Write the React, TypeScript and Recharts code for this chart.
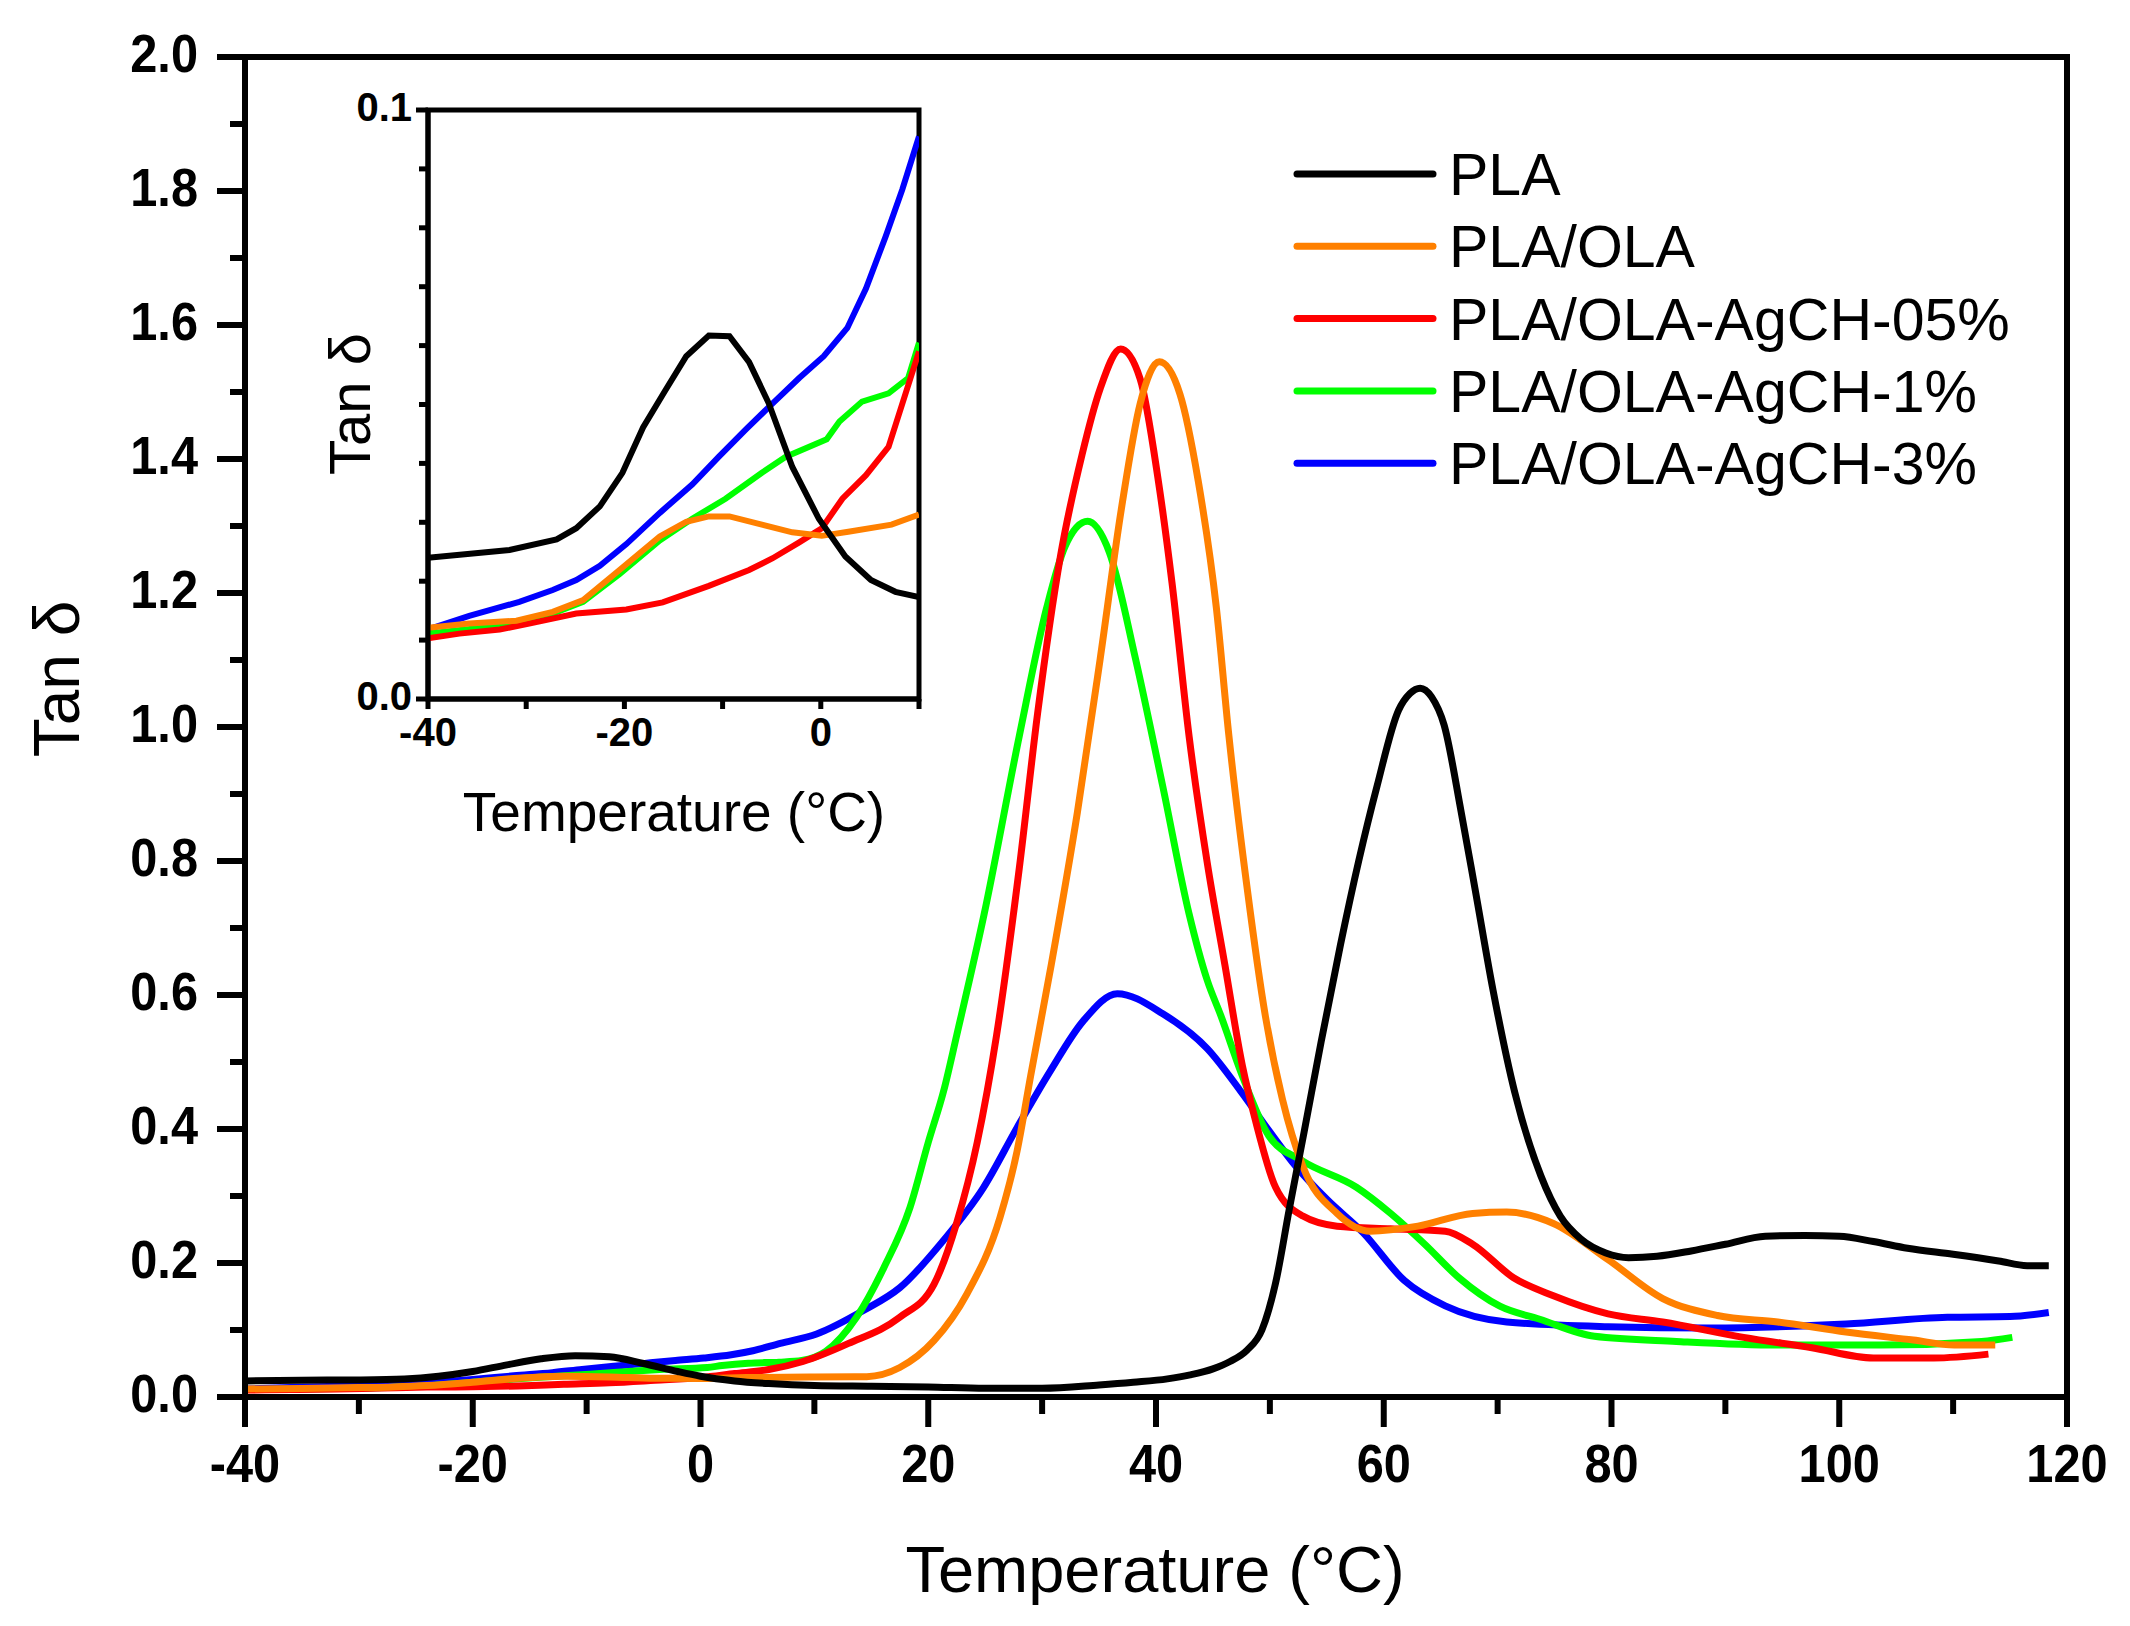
import { LineChart, Line, XAxis, YAxis, ReferenceArea, Legend } from 'recharts'

const FONT = '"Liberation Sans", Arial, Helvetica, sans-serif'

// main panel: tan delta vs temperature (°C)
const plaT = [-40, -35, -30, -26, -23, -20, -17, -14, -11, -8, -5, -2, 0, 3, 6, 10, 15, 20, 25, 30, 35, 38, 41, 43, 45, 46.5, 48, 49.3, 50.5, 51.7, 53, 54.5, 56.2, 57.8, 59.4, 61.3, 62.3, 63.2, 64.2, 65.3, 66.8, 68, 69.6, 71.5, 73.8, 75.5, 77.3, 79.5, 81.5, 84, 87, 90, 93.5, 97, 100, 103, 106, 110, 114, 116.5, 118.4]
const plaV = [0.024, 0.025, 0.0255, 0.027, 0.031, 0.038, 0.048, 0.057, 0.0617, 0.06, 0.05, 0.038, 0.031, 0.024, 0.02, 0.017, 0.016, 0.015, 0.013, 0.013, 0.018, 0.022, 0.027, 0.033, 0.042, 0.053, 0.07, 0.1, 0.17, 0.28, 0.395, 0.53, 0.675, 0.8, 0.911, 1.025, 1.05, 1.058, 1.045, 1.003, 0.873, 0.76, 0.607, 0.455, 0.33, 0.27, 0.236, 0.215, 0.208, 0.21, 0.218, 0.228, 0.24, 0.241, 0.24, 0.232, 0.222, 0.213, 0.203, 0.196, 0.196]

const olaT = [-40, -35, -30, -27, -24, -20, -16, -12, -8, -4, 0, 4, 10, 14.6, 17.5, 20.5, 23.4, 26.3, 27.8, 29, 30.8, 33.1, 35.1, 37, 38.6, 40.3, 42.1, 43.7, 45.3, 46.4, 48, 49.6, 51.1, 52.9, 55.9, 58.8, 63, 67.8, 70.8, 74.9, 79.7, 84.5, 89.3, 94.6, 100.6, 106.5, 110.1, 113.7]
const olaV = [0.012, 0.0128, 0.014, 0.015, 0.017, 0.022, 0.028, 0.031, 0.03, 0.028, 0.0277, 0.029, 0.03, 0.0304, 0.044, 0.084, 0.154, 0.268, 0.367, 0.48, 0.645, 0.873, 1.102, 1.33, 1.482, 1.545, 1.497, 1.368, 1.178, 0.987, 0.76, 0.569, 0.4445, 0.344, 0.274, 0.2475, 0.255, 0.274, 0.276, 0.259, 0.205, 0.147, 0.1216, 0.112, 0.097, 0.085, 0.0775, 0.0775]

const ag05T = [-40, -36, -32, -28, -24, -20, -16, -12, -8, -4, 0, 3, 6, 9, 13, 17.5, 20.5, 22.5, 24.3, 26, 28, 29.6, 31.6, 33.5, 35.1, 36.9, 38.6, 40.2, 41.4, 42.9, 44.5, 46.05, 47.6, 48.7, 50.5, 52.9, 55.9, 60.6, 65.4, 67.8, 71.4, 74.9, 79.7, 84.5, 91.6, 97.6, 103, 108.3, 113.1]
const ag05V = [0.0103, 0.0112, 0.012, 0.0135, 0.0148, 0.0152, 0.0165, 0.019, 0.0213, 0.025, 0.029, 0.035, 0.041, 0.053, 0.08, 0.119, 0.168, 0.26, 0.38, 0.54, 0.79, 1.02, 1.254, 1.406, 1.505, 1.564, 1.52, 1.368, 1.216, 0.987, 0.7975, 0.645, 0.4934, 0.415, 0.313, 0.27, 0.255, 0.251, 0.2475, 0.228, 0.178, 0.151, 0.124, 0.112, 0.089, 0.0736, 0.0582, 0.0582, 0.064]

const ag1T = [-40, -32, -27, -24, -20.5, -16.4, -13, -9.7, -6, -3.6, 0.6, 1.9, 4.2, 6.9, 8.9, 11, 13.7, 16.1, 18.4, 20, 21.4, 22.5, 24.9, 28, 30.4, 32, 34, 35.9, 38.2, 40.6, 42.9, 44.5, 45.7, 47.5, 49.9, 52.9, 57.6, 60.6, 63.6, 66.6, 70.2, 73.7, 78.5, 85.7, 94.6, 103.6, 112.5, 115.2]
const ag1V = [0.0111, 0.0125, 0.0145, 0.0165, 0.0212, 0.0269, 0.0306, 0.034, 0.0384, 0.0411, 0.0441, 0.047, 0.0505, 0.052, 0.0545, 0.068, 0.119, 0.193, 0.283, 0.38, 0.46, 0.54, 0.72, 0.987, 1.178, 1.269, 1.307, 1.261, 1.102, 0.911, 0.7215, 0.622, 0.569, 0.483, 0.39, 0.352, 0.313, 0.274, 0.228, 0.178, 0.1355, 0.116, 0.0907, 0.083, 0.0775, 0.0775, 0.083, 0.089]

const ag3T = [-40, -36, -31, -27, -25, -22.5, -20, -16.4, -13, -10.4, -7.6, -4.9, -2.2, 0.3, 2.7, 4.6, 7, 10.2, 14.3, 17.5, 21.3, 24.85, 27.8, 30.7, 33.6, 36.6, 40.6, 44.5, 47.5, 49.9, 52.3, 55, 58.2, 61.8, 65.4, 70.8, 79.7, 88.6, 100.6, 109.5, 115, 118.4]
const ag3V = [0.0118, 0.014, 0.0165, 0.0185, 0.02, 0.0226, 0.026, 0.0316, 0.0364, 0.0411, 0.0458, 0.0502, 0.0545, 0.0582, 0.063, 0.069, 0.08, 0.094, 0.129, 0.163, 0.233, 0.3126, 0.402, 0.486, 0.561, 0.602, 0.572, 0.52, 0.455, 0.398, 0.344, 0.295, 0.245, 0.174, 0.136, 0.112, 0.105, 0.103, 0.109, 0.119, 0.12, 0.126]

// inset: -40 to 10 °C, tan delta 0 to 0.1
const plaInT = [-40, -31.7, -26.9, -24.9, -22.5, -20.2, -18.1, -15.9, -13.7, -11.4, -9.3, -7.3, -5.3, -2.9, -0.2, 2.5, 5.1, 7.6, 10]
const plaInV = [0.024, 0.0253, 0.0271, 0.029, 0.0327, 0.0384, 0.0461, 0.0522, 0.0582, 0.0617, 0.0616, 0.0572, 0.0502, 0.0394, 0.0306, 0.0242, 0.0202, 0.0182, 0.0173]
const olaInT = [-40, -35.8, -31, -27.3, -24.2, -20.5, -16.4, -13.7, -11.4, -9.3, -6, -2.9, 0.1, 2.8, 7.2, 10]
const olaInV = [0.0121, 0.0128, 0.0133, 0.0148, 0.0168, 0.0219, 0.0276, 0.0301, 0.031, 0.031, 0.0296, 0.0283, 0.0277, 0.0284, 0.0296, 0.0313]
const ag05InT = [-40, -36.8, -32.7, -29.7, -24.9, -19.8, -16.1, -11.4, -7.3, -4.9, -2.2, 0.1, 2.2, 4.6, 6.9, 10]
const ag05InV = [0.0103, 0.0111, 0.0118, 0.0128, 0.0145, 0.0152, 0.0164, 0.0192, 0.0219, 0.0239, 0.0266, 0.029, 0.034, 0.038, 0.0428, 0.059]
const ag1InT = [-40, -32.4, -27.3, -24.2, -20.5, -16.4, -13.1, -9.7, -6, -3.6, 0.6, 1.9, 4.2, 6.9, 8.9, 10]
const ag1InV = [0.0111, 0.0125, 0.0145, 0.0165, 0.0212, 0.0269, 0.0306, 0.034, 0.0384, 0.0411, 0.0441, 0.0471, 0.0505, 0.0519, 0.0545, 0.0605]
const ag3InT = [-40, -35.8, -30.7, -27.3, -24.9, -22.5, -19.8, -16.4, -13.1, -10.4, -7.6, -4.9, -2.2, 0.3, 2.7, 4.6, 6.6, 8.3, 10]
const ag3InV = [0.0118, 0.0141, 0.0165, 0.0185, 0.0202, 0.0226, 0.0263, 0.0316, 0.0364, 0.0411, 0.0458, 0.0502, 0.0545, 0.0582, 0.063, 0.0697, 0.0785, 0.0865, 0.0955]

const mainXTicks = [-40, -30, -20, -10, 0, 10, 20, 30, 40, 50, 60, 70, 80, 90, 100, 110, 120]
const mainYTicks = [0, 0.1, 0.2, 0.3, 0.4, 0.5, 0.6, 0.7, 0.8, 0.9, 1.0, 1.1, 1.2, 1.3, 1.4, 1.5, 1.6, 1.7, 1.8, 1.9, 2.0]
const insetXTicks = [-40, -30, -20, -10, 0, 10]
const insetYTicks = [0, 0.01, 0.02, 0.03, 0.04, 0.05, 0.06, 0.07, 0.08, 0.09, 0.1]

const pts = (t: number[], v: number[]) => t.map((x, i) => ({ t: x, v: v[i] }))

const series = [
  { name: 'PLA', color: '#000000', main: pts(plaT, plaV), inset: pts(plaInT, plaInV) },
  { name: 'PLA/OLA', color: '#FF8000', main: pts(olaT, olaV), inset: pts(olaInT, olaInV) },
  { name: 'PLA/OLA-AgCH-05%', color: '#FF0000', main: pts(ag05T, ag05V), inset: pts(ag05InT, ag05InV) },
  { name: 'PLA/OLA-AgCH-1%', color: '#00FF00', main: pts(ag1T, ag1V), inset: pts(ag1InT, ag1InV) },
  { name: 'PLA/OLA-AgCH-3%', color: '#0000FF', main: pts(ag3T, ag3V), inset: pts(ag3InT, ag3InV) },
]
// PLA was plotted last, so it sits on top
const drawOrder = [...series].reverse()

function MainYTick({ x, y, payload }: any) {
  const v = payload.value
  const major = Math.round(v * 10) % 2 === 0
  return (
    <g>
      <line x1={x - (major ? 28 : 15)} x2={x} y1={y} y2={y} stroke="#000" strokeWidth={6} />
      {major && (
        <text transform={`translate(${x - 47},${y - 3}) scale(0.92,1)`} textAnchor="end" dominantBaseline="central"
          fontFamily={FONT} fontWeight="bold" fontSize={53} fill="#000">
          {v.toFixed(1)}
        </text>
      )}
    </g>
  )
}

function MainXTick({ x, y, payload }: any) {
  const v = payload.value
  const major = Math.round(v) % 20 === 0
  return (
    <g>
      <line x1={x} x2={x} y1={y} y2={y + (major ? 30 : 17)} stroke="#000" strokeWidth={6} />
      {major && (
        <text transform={`translate(${x},${y + 85}) scale(0.92,1)`} textAnchor="middle"
          fontFamily={FONT} fontWeight="bold" fontSize={53} fill="#000">
          {v}
        </text>
      )}
    </g>
  )
}

function InsetYTick({ x, y, payload }: any) {
  const v = payload.value
  const labelled = v === 0 || v === 0.1
  return (
    <g>
      <line x1={x - (labelled ? 12 : 9)} x2={x} y1={y} y2={y} stroke="#000" strokeWidth={5} />
      {labelled && (
        <text x={x - 16} y={y - 3} textAnchor="end" dominantBaseline="central"
          fontFamily={FONT} fontWeight="bold" fontSize={40} fill="#000">
          {v.toFixed(1)}
        </text>
      )}
    </g>
  )
}

function InsetXTick({ x, y, payload }: any) {
  const v = payload.value
  const labelled = Math.round(v) % 20 === 0
  return (
    <g>
      <line x1={x} x2={x} y1={y} y2={y + 10} stroke="#000" strokeWidth={5} />
      {labelled && (
        <text x={x} y={y + 47} textAnchor="middle"
          fontFamily={FONT} fontWeight="bold" fontSize={40} fill="#000">
          {v}
        </text>
      )}
    </g>
  )
}

function LegendBox() {
  return (
    <svg width={800} height={380} style={{ overflow: 'visible' }}>
      {series.map((s, i) => {
        const y = 44 + i * 72.3
        return (
          <g key={s.name}>
            <line x1={17} x2={153} y1={y} y2={y} stroke={s.color} strokeWidth={7} strokeLinecap="round" />
            <text x={169} y={y + 21} fontFamily={FONT} fontSize={59} fill="#000">{s.name}</text>
          </g>
        )
      })}
    </svg>
  )
}

export default function App() {
  return (
    <div style={{ position: 'absolute', left: 0, top: 0, width: 2130, height: 1626, background: '#fff' }}>
      <LineChart width={2130} height={1626} margin={{ top: 57, right: 63, bottom: 0, left: 0 }}>
        <XAxis type="number" dataKey="t" domain={[-40, 120]} ticks={mainXTicks} interval={0} allowDataOverflow
          height={229} tickSize={0} tickMargin={0} tickLine={false} tick={<MainXTick />}
          axisLine={{ stroke: '#000', strokeWidth: 6 }}
          label={() => (
            <text x={1155} y={1592} textAnchor="middle" fontFamily={FONT} fontSize={65} fill="#000">Temperature (°C)</text>
          )} />
        <YAxis type="number" dataKey="v" domain={[0, 2]} ticks={mainYTicks} interval={0} allowDataOverflow
          width={245} tickSize={0} tickMargin={0} tickLine={false} tick={<MainYTick />}
          axisLine={{ stroke: '#000', strokeWidth: 6 }}
          label={() => (
            <text transform="translate(79,679) rotate(-90)" textAnchor="middle" fontFamily={FONT} fontSize={64} fill="#000">Tan δ</text>
          )} />
        {drawOrder.map((s) => (
          <Line key={s.name} data={s.main} dataKey="v" name={s.name} type="monotone" stroke={s.color}
            strokeWidth={7} dot={false} activeDot={false} isAnimationActive={false} />
        ))}
        <ReferenceArea x1={-40} x2={120} y1={0} y2={2} fill="none" stroke="#000" strokeWidth={6} ifOverflow="visible" />
        <Legend layout="vertical" align="center" verticalAlign="middle"
          wrapperStyle={{ left: 1280, top: 130, width: 800, height: 380 }}
          content={() => <LegendBox />} />
      </LineChart>

      <div style={{ position: 'absolute', left: 0, top: 0 }}>
        <LineChart width={1000} height={900} margin={{ top: 110, right: 81, bottom: 0, left: 0 }}>
          <XAxis type="number" dataKey="t" domain={[-40, 10]} ticks={insetXTicks} interval={0} allowDataOverflow
            height={201} tickSize={0} tickMargin={0} tickLine={false} tick={<InsetXTick />}
            axisLine={{ stroke: '#000', strokeWidth: 5 }}
            label={() => (
              <text x={674} y={831} textAnchor="middle" fontFamily={FONT} fontSize={55} fill="#000">Temperature (°C)</text>
            )} />
          <YAxis type="number" dataKey="v" domain={[0, 0.1]} ticks={insetYTicks} interval={0} allowDataOverflow
            width={428} tickSize={0} tickMargin={0} tickLine={false} tick={<InsetYTick />}
            axisLine={{ stroke: '#000', strokeWidth: 5 }}
            label={() => (
              <text transform="translate(370,404) rotate(-90)" textAnchor="middle" fontFamily={FONT} fontSize={58} fill="#000">Tan δ</text>
            )} />
          {drawOrder.map((s) => (
            <Line key={s.name} data={s.inset} dataKey="v" name={s.name} type="linear" stroke={s.color}
              strokeWidth={6} dot={false} activeDot={false} isAnimationActive={false} />
          ))}
          <ReferenceArea x1={-40} x2={10} y1={0} y2={0.1} fill="none" stroke="#000" strokeWidth={5} ifOverflow="visible" />
        </LineChart>
      </div>
    </div>
  )
}
